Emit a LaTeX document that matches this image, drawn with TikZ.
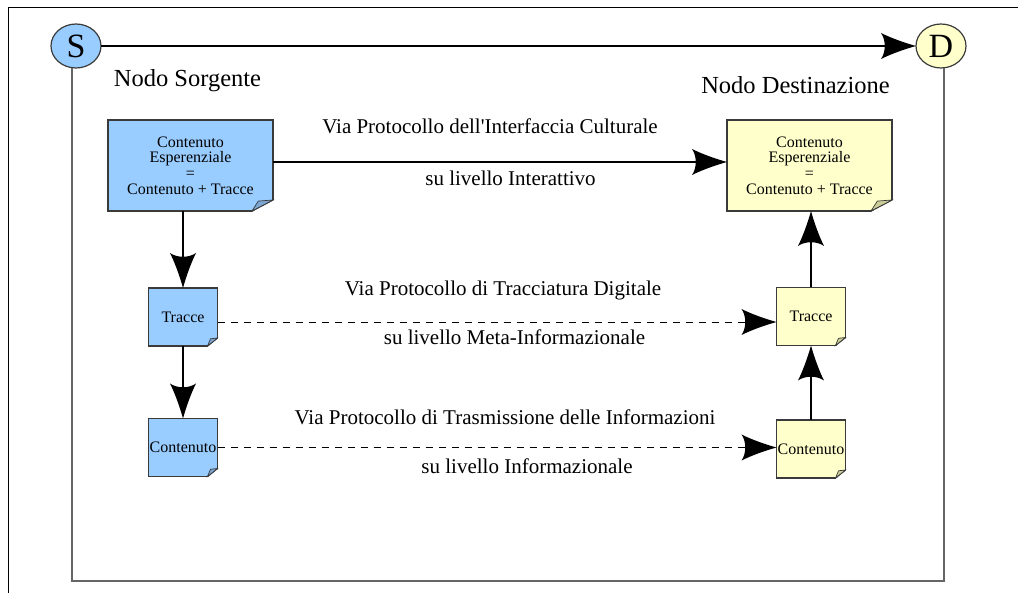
\documentclass[tikz,border=0pt]{standalone}
\usepackage{fontspec}
\setmainfont{Liberation Serif}
\usetikzlibrary{arrows.meta,shapes.geometric}
\definecolor{srcfill}{HTML}{99CCFF}
\definecolor{srcfold}{HTML}{7DA6D2}
\definecolor{dstfill}{HTML}{FFFFCC}
\definecolor{dstfold}{HTML}{CCCC99}
\definecolor{edge}{HTML}{3A3A3A}

% large arrow head with slightly concave sides and a shallow notched back
\pgfdeclarearrow{
  name = Swoop,
  setup code = {
    \pgfarrowssettipend{0pt}
    \pgfarrowssetlineend{-29pt}
    \pgfarrowssetvisualbackend{-31pt}
    \pgfarrowssetbackend{-35pt}
    \pgfarrowshullpoint{0pt}{0pt}
    \pgfarrowshullpoint{-35pt}{13pt}
    \pgfarrowshullpoint{-35pt}{-13pt}
  },
  drawing code = {
    \pgfpathmoveto{\pgfqpoint{0pt}{0pt}}
    \pgfpathcurveto{\pgfqpoint{-11pt}{3pt}}{\pgfqpoint{-25pt}{8pt}}{\pgfqpoint{-35pt}{13pt}}
    \pgfpathcurveto{\pgfqpoint{-30pt}{6pt}}{\pgfqpoint{-30pt}{-6pt}}{\pgfqpoint{-35pt}{-13pt}}
    \pgfpathcurveto{\pgfqpoint{-25pt}{-8pt}}{\pgfqpoint{-11pt}{-3pt}}{\pgfqpoint{0pt}{0pt}}
    \pgfpathclose
    \pgfusepathqfill
  }
}

\begin{document}
\begin{tikzpicture}[x=1pt,y=-1pt,
  every node/.style={inner sep=0pt, outer sep=0pt},
  note/.style={rectangle, draw=edge, line width=1.2pt, align=center,
    font=\fontsize{16}{15.6}\selectfont},
  bignote/.style={note, minimum width=165pt, minimum height=91pt},
  smallnote/.style={note, minimum width=69pt, minimum height=58pt},
  endpoint/.style={ellipse, draw=edge, line width=1.2pt, minimum width=50pt,
    minimum height=44pt, font=\fontsize{34}{34}\selectfont},
  lbl/.style={anchor=base, font=\fontsize{21}{21}\selectfont},
  heading/.style={anchor=base, font=\fontsize{24.5}{24.5}\selectfont},
  arr/.style={-Swoop, line width=1.1pt},
  dasharr/.style={arr, dash pattern=on 7pt off 6pt, line width=0.9pt},
  frameline/.style={draw=black!60, line width=1.6pt},
  pageline/.style={draw=black, line width=1pt}
]
\useasboundingbox (0,0) rectangle (1018,593);

% page border
\draw[pageline] (1018,8) -- (8,8) -- (8,593);

% source and destination end points
\node[endpoint, fill=srcfill] (S) at (76,46) {S};
\node[endpoint, fill=dstfill] (D) at (941,46) {D};

% enclosing frame hanging from both end points
\coordinate (framebl) at (72,581);
\draw[frameline] (S.south -| framebl) -- (framebl) -| ([xshift=3pt]D.south);

\draw[arr] (S.east) -- (D.west);

% headings
\node[heading] (hs) at (187.5,87) {Nodo Sorgente};
\node[heading] (hd) at (795.5,94) {Nodo Destinazione};

% notes on the source side
\node[bignote, fill=srcfill] (sbig) at (190.5,165.5)
  {Contenuto\\Esperenziale\\=\\Contenuto + Tracce};
\node[smallnote, fill=srcfill] (st) at (183,317) {Tracce};
\node[smallnote, fill=srcfill] (sc) at (183,447.5) {Contenuto};

% notes on the destination side
\node[bignote, fill=dstfill] (dbig) at (809.5,165.5)
  {Contenuto\\Esperenziale\\=\\Contenuto + Tracce};
\node[smallnote, fill=dstfill] (dt) at (811,316.5) {Tracce};
\node[smallnote, fill=dstfill] (dc) at (811,449) {Contenuto};

% folded corners
\foreach \n/\f/\w/\h in {sbig/srcfold/21/11, dbig/dstfold/21/11,
    st/srcfold/10/8, sc/srcfold/10/8, dt/dstfold/10/8, dc/dstfold/10/8}{
  \fill[white] ([xshift=-\w pt, yshift=-1pt]\n.south east)
    -- ([xshift=1pt, yshift=-1pt]\n.south east)
    -- ([xshift=1pt, yshift=\h pt]\n.south east) -- cycle;
  \draw[edge, line width=1.2pt] ([xshift=-\w pt]\n.south east)
    -- ([yshift=\h pt]\n.south east);
  \filldraw[fill=\f, draw=edge, line width=0.7pt]
    ([xshift=-\w pt]\n.south east) -- ++(0.3*\w,-0.9*\h)
    -- ([yshift=\h pt]\n.south east) -- cycle;
}

% vertical flows
\draw[arr] (sbig.south -| st.north) -- (st.north);
\draw[arr] (st.south) -- (sc.north);
\draw[arr] (dc.north) -- (dt.south);
\draw[arr] (dt.north) -- (dt.north |- dbig.south);

% protocol links
\draw[arr] ([yshift=3.5pt]sbig.east) -- ([yshift=3.5pt]dbig.west);
\draw[dasharr] ([yshift=-5pt]st.east) -- ([yshift=-5pt]st.east -| dt.west);
\draw[dasharr] (sc.east) -- (sc.east -| dc.west);

% protocol labels
\node[lbl] (l1a) at (490,134) {Via Protocollo dell\textquotesingle Interfaccia Culturale};
\node[lbl] (l1b) at (510.5,186) {su livello Interattivo};
\node[lbl] (l2a) at (503,296) {Via Protocollo di Tracciatura Digitale};
\node[lbl] (l2b) at (514.5,345) {su livello Meta-Informazionale};
\node[lbl] (l3a) at (505,425) {Via Protocollo di Trasmissione delle Informazioni};
\node[lbl] (l3b) at (527,474) {su livello Informazionale};
\end{tikzpicture}
\end{document}
